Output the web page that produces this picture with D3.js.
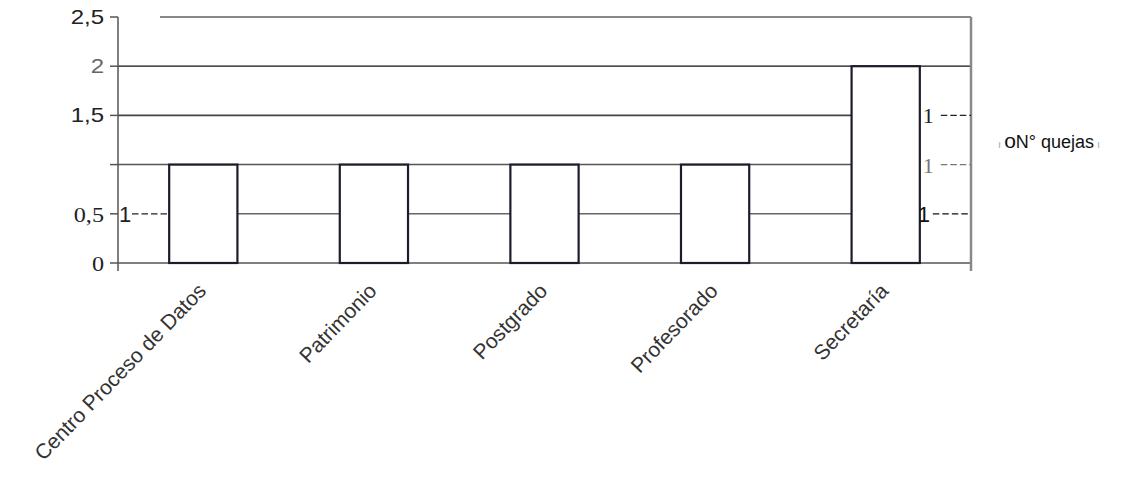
<!DOCTYPE html>
<html><head><meta charset="utf-8">
<script src="https://cdn.jsdelivr.net/npm/d3@7"></script>
<style>body{margin:0;background:#fff}svg{display:block}</style>
</head><body>
<svg id="c" width="1136" height="479"></svg>
<script>
const categories = ["Centro Proceso de Datos","Patrimonio","Postgrado","Profesorado","Secretaría"];
const quejas = [1,1,1,1,2];
const yTicks = [0,0.5,1,1.5,2,2.5];
const yTickLabels = ["0","0,5","","1,5","2","2,5"];
const seriesName = "N° quejas";

const SANS = "'Liberation Sans', Arial, sans-serif";
const SERIF = "'Liberation Serif', 'DejaVu Serif', 'Times New Roman', serif";

const svg = d3.select("#c");
const L = 118, R = 971, T = 17, B = 263;
const x = d3.scaleBand().domain(categories).range([L, R]).paddingInner(0.6).paddingOuter(0.3);
const y = d3.scaleLinear().domain([0, 2.5]).range([B, T]);
const first = categories[0], last = categories[categories.length-1];
const firstRight = x(first) + x.bandwidth();
const lastLeft = x(last), lastRight = x(last) + x.bandwidth();

// gridlines (segments replaced by leader labels are left out)
const gridStyle = {0:["#555",1.5],0.5:["#666",1.5],1:["#555",1.5],1.5:["#444",1.8],2:["#111",1.2],2.5:["#888",2]};
yTicks.forEach(v => {
  const [c,w] = gridStyle[v];
  let x1 = L, x2 = R;
  if (v === 2.5) x1 = 160;
  if (v === 0.5) x1 = firstRight;
  if (v > 0 && v < 2) x2 = lastLeft;
  svg.append("line").attr("x1", x1).attr("x2", x2).attr("y1", y(v)).attr("y2", y(v))
    .attr("stroke", c).attr("stroke-width", w);
  svg.append("line").attr("x1", 110).attr("x2", L).attr("y1", y(v)).attr("y2", y(v))
    .attr("stroke", "#555").attr("stroke-width", 1.5);
});
// y axis and right border
svg.append("line").attr("x1", L).attr("x2", L).attr("y1", T).attr("y2", B+8).attr("stroke","#555").attr("stroke-width",1.5);
svg.append("line").attr("x1", R).attr("x2", R).attr("y1", T).attr("y2", B+8).attr("stroke","#888").attr("stroke-width",2.5);

// y labels
const serifTicks = new Set([0,0.5]);
yTicks.forEach((v,i) => {
  if (!yTickLabels[i]) return;
  const isSerif = serifTicks.has(v);
  svg.append("text")
    .attr("transform", `translate(104,${y(v)}) scale(${isSerif?1.1:1.2},1)`)
    .attr("dy","0.35em").attr("text-anchor","end")
    .style("font-family", isSerif ? SERIF : SANS)
    .attr("font-size", isSerif ? 22 : 20)
    .attr("fill", v===2 ? "#666" : "#222")
    .text(yTickLabels[i]);
});

// bars
svg.selectAll("rect.bar").data(categories).join("rect")
  .attr("x", d => x(d)).attr("width", x.bandwidth())
  .attr("y", (d,i) => y(quejas[i])).attr("height", (d,i) => y(0) - y(quejas[i]))
  .attr("fill", "#fff").attr("stroke", "#1c1c2c").attr("stroke-width", 2.2);

// data labels with dashed leaders (scan artifacts)
function lab(val, tx, yv, fam, col, dx1, dx2){
  svg.append("text").attr("x", tx).attr("y", y(yv)).attr("dy","0.36em")
    .style("font-family", fam).attr("font-size", 22).attr("fill", col).text(val);
  svg.append("line").attr("x1", dx1).attr("x2", dx2).attr("y1", y(yv)).attr("y2", y(yv))
    .attr("stroke", col).attr("stroke-width", 1.3).attr("stroke-dasharray", "6.5,3");
}
lab(quejas[0], L + 1, 0.5, SANS, "#222", L + 14, x(first) - 1);
lab(quejas[4]/2, lastRight + 3, 1.5, SERIF, "#222", lastRight + 21, R);
lab(quejas[4]/2, lastRight + 3, 1, SERIF, "#777", lastRight + 21, R);
lab(quejas[4]/2, lastRight - 2, 0.5, SANS, "#111", lastRight + 13, R - 3);

// x labels
categories.forEach(c => {
  const cx = x(c) + x.bandwidth()/2 + 4, cy = 292;
  svg.append("text").attr("transform", `translate(${cx},${cy}) rotate(-46)`)
    .attr("text-anchor","end").style("font-family", SANS)
    .attr("font-size", 21).attr("fill","#333").text(c);
});

// legend
const lg = svg.append("text").attr("x", 998).attr("y", 142).attr("dy","0.35em")
  .style("font-family", SANS).attr("font-size",18);
lg.append("tspan").attr("fill","#aaa").attr("font-size",11).text("ı  ");
lg.append("tspan").attr("fill","#111").attr("font-size",21).text("o");
lg.append("tspan").attr("fill","#111").text(seriesName);
lg.append("tspan").attr("fill","#aaa").attr("font-size",11).text("  ı");
</script>
</body></html>
